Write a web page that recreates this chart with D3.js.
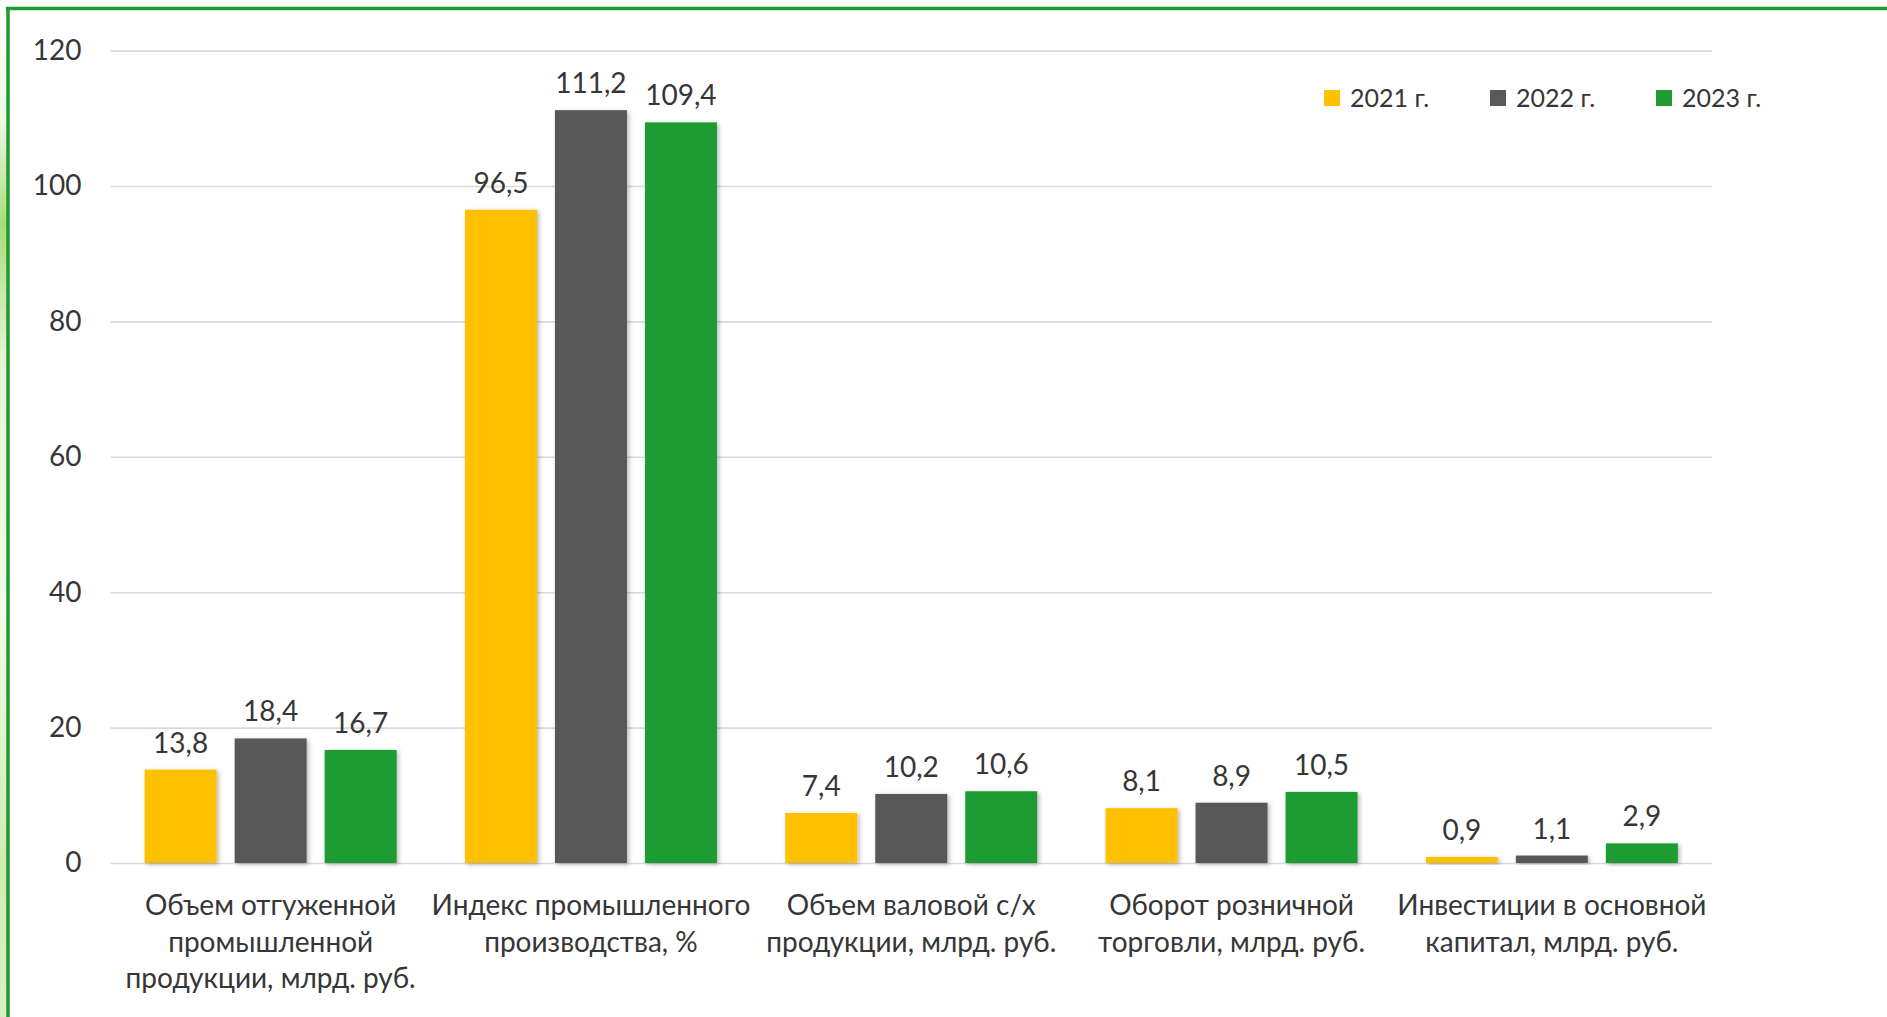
<!DOCTYPE html>
<html>
<head>
<meta charset="utf-8">
<script src="https://cdn.jsdelivr.net/npm/d3@7"></script>
<style>
  html, body { margin: 0; padding: 0; background: #ffffff; }
  svg { display: block; }
  text { font-family: Lato, "Noto Sans", sans-serif; fill: #363636; }
</style>
</head>
<body>
<svg id="chart" width="1887" height="1017"></svg>
<script>
// ---- data ----
const categories = [
  "Объем отгуженной промышленной продукции, млрд. руб.",
  "Индекс промышленного производства, %",
  "Объем валовой с/х продукции, млрд. руб.",
  "Оборот розничной торговли, млрд. руб.",
  "Инвестиции в основной капитал, млрд. руб."
];
const categoryLines = [
  ["Объем отгуженной", "промышленной", "продукции, млрд. руб."],
  ["Индекс промышленного", "производства, %"],
  ["Объем валовой с/х", "продукции, млрд. руб."],
  ["Оборот розничной", "торговли, млрд. руб."],
  ["Инвестиции в основной", "капитал, млрд. руб."]
];
const seriesNames = ["2021 г.", "2022 г.", "2023 г."];
const values2021 = [13.8, 96.5, 7.4, 8.1, 0.9];
const values2022 = [18.4, 111.2, 10.2, 8.9, 1.1];
const values2023 = [16.7, 109.4, 10.6, 10.5, 2.9];
const yTicks = [0, 20, 40, 60, 80, 100, 120];
const colors = ["#FFC000", "#595959", "#1E9C30"];

const seriesValues = [values2021, values2022, values2023];

// ---- layout ----
const svg = d3.select("#chart");
const plot = { left: 110.5, right: 1712, top: 50.6, bottom: 863 };

const defs = svg.append("defs");
const grad = defs.append("linearGradient").attr("id", "sideGlow")
  .attr("x1", 0).attr("y1", 0).attr("x2", 0).attr("y2", 1);
grad.append("stop").attr("offset", "0%").attr("stop-color", "#ffffff");
grad.append("stop").attr("offset", "12%").attr("stop-color", "#eef8e4");
grad.append("stop").attr("offset", "22%").attr("stop-color", "#a8dc78");
grad.append("stop").attr("offset", "35%").attr("stop-color", "#e4f4d4");
grad.append("stop").attr("offset", "60%").attr("stop-color", "#f2faea");
grad.append("stop").attr("offset", "85%").attr("stop-color", "#cdeeb0");
grad.append("stop").attr("offset", "100%").attr("stop-color", "#d8f2c0");

const shadow = defs.append("filter").attr("id", "barShadow")
  .attr("x", "-20%").attr("y", "-20%").attr("width", "140%").attr("height", "140%");
shadow.append("feDropShadow").attr("dx", 2).attr("dy", 1.5)
  .attr("stdDeviation", 2).attr("flood-color", "#000").attr("flood-opacity", 0.28);

// side glow outside the frame
svg.append("rect").attr("x", 0).attr("y", 0).attr("width", 7).attr("height", 1017)
  .attr("fill", "url(#sideGlow)");

// frame
svg.append("line").attr("x1", 6).attr("x2", 1887).attr("y1", 8.5).attr("y2", 8.5)
  .attr("stroke", "#1F9A2E").attr("stroke-width", 3.5);
svg.append("line").attr("x1", 8).attr("x2", 8).attr("y1", 7).attr("y2", 1017)
  .attr("stroke", "#1F9A2E").attr("stroke-width", 3.5);

// scales
const y = d3.scaleLinear().domain([0, 120]).range([plot.bottom, plot.top]);
const x0 = d3.scaleBand().domain(d3.range(categories.length))
  .range([plot.left, plot.right]).paddingInner(0).paddingOuter(0);
const x1 = d3.scaleBand().domain(d3.range(seriesNames.length))
  .range([-126, 126]).paddingInner(0.2).paddingOuter(0);

// gridlines + y labels via axis
const yAxis = d3.axisLeft(y).tickValues(yTicks)
  .tickSize(-(plot.right - plot.left)).tickPadding(29)
  .tickFormat(d3.format("d"));
const gy = svg.append("g").attr("transform", `translate(${plot.left},0)`).call(yAxis);
gy.select(".domain").remove();
gy.selectAll(".tick line").attr("stroke", "#d9d9d9").attr("stroke-width", 1.6);
gy.selectAll(".tick text").attr("fill", "#363636")
  .style("font-size", "28px").style("font-family", "Lato, 'Noto Sans', sans-serif");

// bars
const fmt = v => d3.format(".1f")(v).replace(".", ",");
const groups = svg.append("g").selectAll("g.cat")
  .data(categories.map((c, i) => i))
  .join("g").attr("class", "cat")
  .attr("transform", i => `translate(${x0(i) + x0.bandwidth() / 2},0)`);

groups.selectAll("rect")
  .data(i => seriesValues.map((vals, s) => ({ s, v: vals[i] })))
  .join("rect")
  .attr("x", d => x1(d.s))
  .attr("width", x1.bandwidth())
  .attr("y", d => y(d.v))
  .attr("height", d => y(0) - y(d.v))
  .attr("fill", d => colors[d.s])
  .attr("filter", "url(#barShadow)");

groups.selectAll("text.val")
  .data(i => seriesValues.map((vals, s) => ({ s, v: vals[i] })))
  .join("text").attr("class", "val")
  .attr("x", d => x1(d.s) + x1.bandwidth() / 2)
  .attr("y", d => y(d.v) - 17)
  .attr("text-anchor", "middle")
  .style("font-size", "28px")
  .text(d => fmt(d.v));

// category labels
groups.append("text").attr("class", "cat-label")
  .attr("text-anchor", "middle")
  .style("font-size", "28px")
  .selectAll("tspan")
  .data(i => categoryLines[i])
  .join("tspan")
  .attr("x", 0)
  .attr("y", (d, k) => 915 + k * 36.5)
  .text(d => d);

// legend
const legendX = [1324, 1490, 1656];
const legend = svg.append("g").selectAll("g")
  .data(seriesNames).join("g")
  .attr("transform", (d, i) => `translate(${legendX[i]},0)`);
legend.append("rect").attr("x", 0).attr("y", 90).attr("width", 16).attr("height", 16)
  .attr("fill", (d, i) => colors[i]);
legend.append("text").attr("x", 26).attr("y", 106.5)
  .style("font-size", "25px").text(d => d);
</script>
</body>
</html>
